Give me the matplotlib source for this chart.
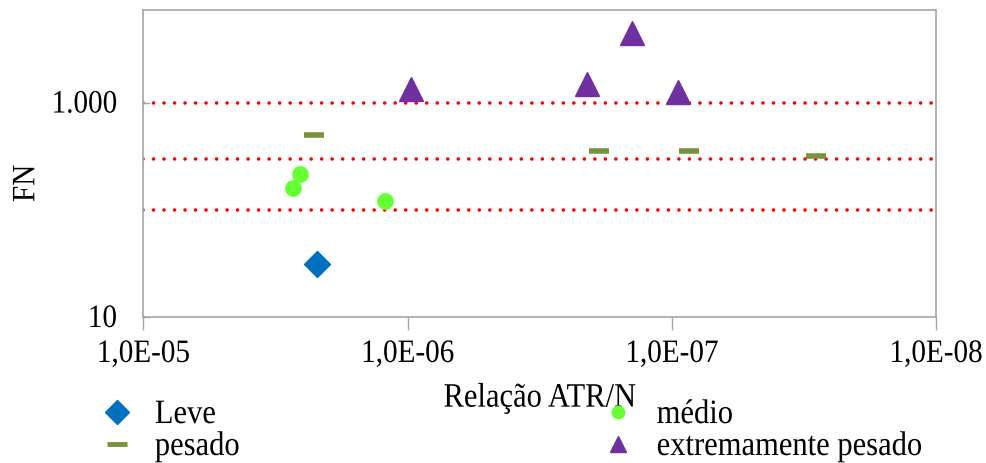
import numpy as np
import matplotlib
matplotlib.use('Agg')
import matplotlib.pyplot as plt
from matplotlib.patheffects import AbstractPathEffect
from matplotlib.transforms import Affine2D

# data (x = ATR/N ratio, y = FN)
leve_x = [2.21e-6]
leve_y = [31]
medio_x = [2.55e-6, 2.72e-6, 1.22e-6]
medio_y = [216, 161, 121]
pesado_x = [2.27e-6, 1.88e-7, 8.6e-8, 2.85e-8]
pesado_y = [497, 352, 352, 320]
extremo_x = [9.73e-7, 2.09e-7, 1.41e-7, 9.47e-8]
extremo_y = [1334, 1494, 4440, 1250]
limit_x = [1e-5, 1e-8]
limit_levels = [1000, 300, 100]
xticks = [1e-5, 1e-6, 1e-7, 1e-8]
xtick_labels = ['1,0E-05', '1,0E-06', '1,0E-07', '1,0E-08']
yticks = [10, 1000]
ytick_labels = ['10', '1.000']


class VStretch(AbstractPathEffect):
    # the source image has slightly tall, narrow glyphs
    def __init__(self, k=1.12):
        super().__init__()
        self.k = k

    def draw_path(self, renderer, gc, tpath, affine, rgbFace=None):
        renderer.draw_path(gc, tpath, Affine2D().scale(1, self.k) + affine, rgbFace)


plt.rcParams['font.family'] = ['Liberation Serif', 'DejaVu Serif']
plt.rcParams['font.size'] = 21

fig = plt.figure(figsize=(9.86, 4.64), dpi=100)
ax = fig.add_axes([0.1454, 0.3147, 0.8039, 0.6616])

for lvl in limit_levels:
    ax.plot(limit_x, [lvl, lvl], color='#FF0000', lw=2.6,
            linestyle=(0, (0.01, 2.9)), dash_capstyle='round', zorder=1)

ax.plot(leve_x, leve_y, 'D', color='#0070C0', ms=13, ls='none',
        label='Leve', zorder=3)
ax.plot(medio_x, medio_y, 'o', color='#66FF33', ms=11, ls='none',
        label='médio', zorder=3)
ax.plot(pesado_x, pesado_y, '_', color='#77933C', ms=15, mew=4, ls='none',
        label='pesado', zorder=3)
ax.plot(extremo_x, extremo_y, '^', color='#7030A0', ms=17, ls='none',
        label='extremamente pesado', zorder=3)

ax.set_xscale('log')
ax.set_yscale('log')
ax.set_xlim(1e-5, 1e-8)
ax.set_ylim(10, 7300)
ax.set_xticks(xticks)
ax.set_xticklabels(xtick_labels)
ax.set_yticks(yticks)
ax.set_yticklabels(ytick_labels)
ax.minorticks_off()
ax.tick_params(axis='x', length=9, width=1, color='#A6A6A6', pad=9)
ax.tick_params(axis='y', direction='in', length=5, width=1,
               color='#A6A6A6', pad=19)
for s in ax.spines.values():
    s.set_color('#A6A6A6')
    s.set_linewidth(1.2)

ax.set_ylabel('FN')
ax.yaxis.set_label_coords(-0.130, 0.435)
ax.set_xlabel('Relação ATR/N', fontsize=22, labelpad=12)

handles, labels = ax.get_legend_handles_labels()
order = [0, 2, 1, 3]
leg = fig.legend([handles[i] for i in order], [labels[i] for i in order],
                 loc='upper left', bbox_to_anchor=(0.1028, 0.1335), ncol=2,
                 frameon=False, fontsize=22, handlelength=1.0,
                 handletextpad=0.75, columnspacing=11.9, labelspacing=0.08,
                 borderpad=0, borderaxespad=0)
# legend symbols are drawn smaller than the plot markers
for h, ms in zip(leg.legend_handles, [12, 14, 9, 11]):
    h.set_markersize(ms)
leg.legend_handles[1].set_markeredgewidth(3.5)

stretch = [VStretch(1.12)]
for t in ax.get_xticklabels() + ax.get_yticklabels() + leg.get_texts():
    t.set_path_effects(stretch)
ax.xaxis.label.set_path_effects(stretch)
ax.yaxis.label.set_path_effects(stretch)

fig.savefig('out.png', dpi=100)
